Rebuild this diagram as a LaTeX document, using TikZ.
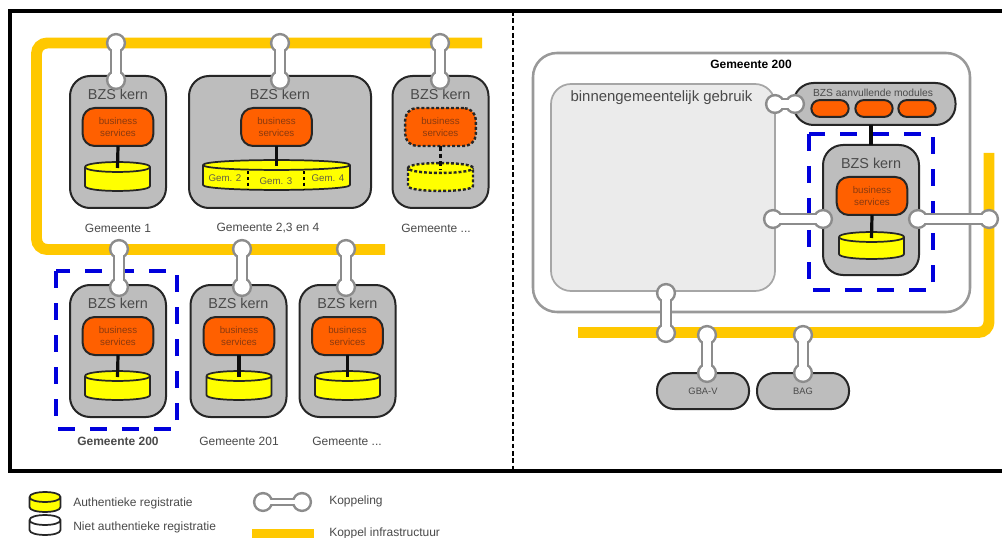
\documentclass[tikz,border=0pt]{standalone}
\usepackage{fontspec}
\setmainfont{Liberation Sans}
\definecolor{pipe}{HTML}{FFC800}
\definecolor{boxgrey}{HTML}{BDBDBD}
\definecolor{kopgrey}{HTML}{8C8C8C}
\definecolor{orangebs}{HTML}{FF6000}
\definecolor{txtgrey}{HTML}{4A4A4A}
\definecolor{bstxt}{HTML}{8A3A10}
\definecolor{cylyellow}{HTML}{FFFF00}
\definecolor{bluedash}{HTML}{0000DC}
\tikzset{
  kernbox/.style={draw=black!85,line width=1.5pt,fill=boxgrey,rounded corners=15pt,inner sep=0pt,outer sep=0pt},
  bsbox/.style={draw=black!85,line width=1.5pt,fill=orangebs,rounded corners=9pt,inner sep=0pt,outer sep=0pt,
     minimum width=53pt,minimum height=28.5pt,align=center,text=bstxt,font=\fontsize{7.3}{9}\selectfont},
  dotline/.style={line width=1.8pt,dash pattern=on 2.2pt off 1.5pt},
  bsdash/.style={bsbox,dotline},
  modpill/.style={draw=black!85,line width=1.5pt,fill=orangebs,rounded corners=6.3pt,inner sep=0pt,outer sep=0pt,
     minimum width=28pt,minimum height=12.6pt},
  dbcyl/.style={draw=black!85,line width=1.3pt,line join=round},
  dblink/.style={draw=black!95,line width=2.4pt},
  pipeline/.style={draw=pipe,line width=8.2pt,rounded corners=8pt},
  lab/.style={text=txtgrey,font=\fontsize{9}{11}\selectfont,inner sep=0pt},
  kerntxt/.style={text=txtgrey,font=\fontsize{10.8}{13}\selectfont,inner sep=0pt},
  gemtxt/.style={text=black!70!yellow,font=\fontsize{7.3}{9}\selectfont,inner sep=0pt},
  bluebox/.style={draw=bluedash,line width=2.5pt,dash pattern=on 13pt off 11pt},
}
% \kop[outer stem/inner stem]{a}{b}
\newcommand{\kop}[3][9pt/5.4pt]{%
  \foreach \kopO/\kopI in {#1}{%
    \fill[kopgrey] (#2) circle[radius=7.6pt] (#3) circle[radius=7.6pt];
    \draw[kopgrey,line width=\kopO] (#2) -- (#3);
    \fill[white] (#2) circle[radius=5.7pt] (#3) circle[radius=5.7pt];
    \draw[white,line width=\kopI] (#2) -- (#3);}}
% \cylin{name}{cx}{ytop}{ybot}{halfwidth}{style}{fill}
\newcommand{\cylin}[7]{%
  \pgfmathsetmacro{\cyL}{#2-#5}\pgfmathsetmacro{\cyR}{#2+#5}%
  \pgfmathsetmacro{\cyT}{#3-6.6}\pgfmathsetmacro{\cyU}{#3+6.6}\pgfmathsetmacro{\cyB}{#4+6.6}%
  \filldraw[#6,fill=#7] (\cyL,#3) -- (\cyL,#4) .. controls (\cyL,\cyB) and (\cyR,\cyB) .. (\cyR,#4) -- (\cyR,#3)
     .. controls (\cyR,\cyT) and (\cyL,\cyT) .. (\cyL,#3) .. controls (\cyL,\cyU) and (\cyR,\cyU) .. (\cyR,#3);
  \coordinate (#1) at (#2,#3+1);}
% \kernunit{name}{cx}{top}{bottom}
\newcommand{\kernunit}[4]{%
  \pgfmathsetmacro{\kuM}{(#3+#4)/2}\pgfmathsetmacro{\kuH}{(#4-#3)*0.75}%
  \pgfmathsetmacro{\kuY}{#3+18}%
  \node[kernbox,minimum width=72pt,minimum height=\kuH pt] (#1) at (#2,\kuM) {};
  \node[kerntxt] (#1t) at (#2,\kuY) {BZS kern};}
\newcommand{\bsnode}[4][bsbox]{\node[#1] (#2) at (#3,#4) {business\\services};}
\begin{document}
\begin{tikzpicture}[x=0.75pt,y=-0.75pt]
\useasboundingbox (0,0) rectangle (1002,538);
\fill[white] (0,0) rectangle (1002,538);

% frame (open to the right edge)
\coordinate (fa) at (1003,11); \coordinate (fb) at (10,11);
\coordinate (fc) at (10,471);  \coordinate (fd) at (1003,471);
\draw[black,line width=2.5pt] (fa) -- (fb) -- (fc) -- (fd);
\coordinate (da) at (513,11); \coordinate (db) at (513,471);
\draw[black,line width=1.6pt,dash pattern=on 3.5pt off 2pt] (da) -- (db);

% left infrastructure
\draw[pipeline] (482,43) -- (36.5,43) -- (36.5,249.5) -- (385,249.5);

% Row 1
\kernunit{k1}{118}{76}{208}
\bsnode{b1}{118}{127}
\cylin{c1}{117.5}{167}{186}{32.5}{dbcyl}{cylyellow}
\draw[dblink] (b1.south) -- (c1);
\node[lab] (g1) at (118,228) {Gemeente 1};

\node[kernbox,minimum width=136.5pt,minimum height=99pt] (k2) at (280,142) {};
\node[kerntxt] (k2t) at (280,94) {BZS kern};
\bsnode{b2}{276.5}{127}
\cylin{c2}{276.5}{165}{185}{73.5}{dbcyl}{cylyellow}
\draw[dblink] (b2.south) -- (c2);
\coordinate (s1a) at (248,171); \coordinate (s1b) at (248,189);
\coordinate (s2a) at (304,171); \coordinate (s2b) at (304,189);
\draw[black,line width=1.5pt,dash pattern=on 2.2pt off 2.2pt] (s1a) -- (s1b) (s2a) -- (s2b);
\node[gemtxt] (g21) at (225,178) {Gem. 2};
\node[gemtxt] (g22) at (276,181) {Gem. 3};
\node[gemtxt] (g23) at (328,178) {Gem. 4};
\node[lab] (g2) at (268,228) {Gemeente 2,3 en 4};

\kernunit{k3}{440.5}{76}{208}
\bsnode[bsdash]{b3}{440.5}{127}
\cylin{c3}{440.5}{168}{186}{32.5}{dbcyl,dotline}{cylyellow}
\draw[dblink,line width=2.6pt,dash pattern=on 3.5pt off 2.2pt] (b3.south) -- (c3);
\node[lab] (g3) at (436,228) {Gemeente ...};

% Row 2
\draw[bluebox] (56,271) rectangle (177,429);
\kernunit{k4}{118}{285}{417}
\bsnode{b4}{118}{336}
\cylin{c4}{117.5}{376}{395}{32.5}{dbcyl}{cylyellow}
\draw[dblink] (b4.south) -- (c4);
\node[lab,font=\fontsize{9}{11}\selectfont\bfseries] (g4) at (118,441) {Gemeente 200};

\kernunit{k5}{238.5}{285}{417}
\bsnode{b5}{239}{336}
\cylin{c5}{239}{376}{395}{32.5}{dbcyl}{cylyellow}
\draw[dblink] (b5.south) -- (c5);
\node[lab] (g5) at (239,441) {Gemeente 201};

\kernunit{k6}{347.5}{285}{417}
\bsnode{b6}{347.5}{336}
\cylin{c6}{347.5}{376}{395}{32.5}{dbcyl}{cylyellow}
\draw[dblink] (b6.south) -- (c6);
\node[lab] (g6) at (347,441) {Gemeente ...};

% left couplings
\coordinate (p1) at (116,43);  \coordinate (q1) at (116,80);
\coordinate (p2) at (280,43);  \coordinate (q2) at (280,80);
\coordinate (p3) at (440,43);  \coordinate (q3) at (440,80);
\coordinate (p4) at (119,249); \coordinate (q4) at (119,287);
\coordinate (p5) at (242,249); \coordinate (q5) at (242,287);
\coordinate (p6) at (346,249); \coordinate (q6) at (346,287);
\kop{p1}{q1}\kop{p2}{q2}\kop{p3}{q3}\kop{p4}{q4}\kop{p5}{q5}\kop{p6}{q6}

% right side
\draw[pipeline] (989,153) -- (989,332.5) -- (578,332.5);
\node[draw=black!40,line width=1.9pt,fill=white,rounded corners=18pt,minimum width=327.75pt,minimum height=194.25pt,inner sep=0pt,outer sep=0pt] (gem) at (751.5,182.5) {};
\node[lab,text=black,font=\fontsize{9}{11}\selectfont\bfseries] (gemt) at (751,64) {Gemeente 200};
\node[draw=black!35,line width=1.3pt,fill=black!8,rounded corners=15pt,minimum width=168pt,minimum height=155.25pt,inner sep=0pt,outer sep=0pt] (binnen) at (663,187.5) {};
\node[kerntxt,font=\fontsize{11.2}{13}\selectfont] (binnent) at (661.5,98) {binnengemeentelijk gebruik};

\node[draw=black!85,line width=1.5pt,fill=boxgrey,rounded corners=15pt,minimum width=121.5pt,minimum height=31.5pt,inner sep=0pt,outer sep=0pt] (mods) at (874.5,104) {};
\node[lab,font=\fontsize{7.7}{9}\selectfont] (modst) at (873,93) {BZS aanvullende modules};
\node[modpill] (m1) at (830,108.5) {};
\node[modpill] (m2) at (874,108.5) {};
\node[modpill] (m3) at (917,108.5) {};

\draw[bluebox] (809,134) rectangle (933,290);
\kernunit{k7}{871}{145}{275}
\draw[dblink] (mods.south -| k7.north) -- (k7.north);
\bsnode{b7}{872}{196}
\cylin{c7}{871.5}{237}{254}{32.5}{dbcyl}{cylyellow}
\draw[dblink] (b7.south) -- (c7);

\node[draw=black!85,line width=1.5pt,fill=boxgrey,rounded corners=13pt,minimum width=69pt,minimum height=27pt,inner sep=0pt,outer sep=0pt] (gba) at (703,391) {};
\node[lab,font=\fontsize{7}{9}\selectfont] (gbat) at (703,391) {GBA-V};
\node[draw=black!85,line width=1.5pt,fill=boxgrey,rounded corners=13pt,minimum width=69pt,minimum height=27pt,inner sep=0pt,outer sep=0pt] (bag) at (803,391) {};
\node[lab,font=\fontsize{7}{9}\selectfont] (bagt) at (803,391) {BAG};

\coordinate (r1a) at (775,104); \coordinate (r1b) at (795,104);
\coordinate (r2a) at (773,219); \coordinate (r2b) at (823,219);
\coordinate (r3a) at (918,219); \coordinate (r3b) at (989,219);
\coordinate (r4a) at (666,293); \coordinate (r4b) at (666,333);
\coordinate (r5a) at (707,335); \coordinate (r5b) at (707,373);
\coordinate (r6a) at (803,335); \coordinate (r6b) at (803,373);
\kop{r1a}{r1b}\kop{r2a}{r2b}\kop{r3a}{r3b}\kop{r4a}{r4b}\kop{r5a}{r5b}\kop{r6a}{r6b}

% legend
\cylin{lc1}{45}{497}{507}{15.5}{dbcyl}{cylyellow}
\cylin{lc2}{45}{520}{530}{15.5}{dbcyl}{white}
\node[lab,anchor=west] (l1) at (73,503) {Authentieke registratie};
\node[lab,anchor=west] (l2) at (73,527) {Niet authentieke registratie};
\coordinate (lk1) at (263,502); \coordinate (lk2) at (302,502);
\kop[5.6pt/2.4pt]{lk1}{lk2}
\node[lab,anchor=west] (l3) at (329,501) {Koppeling};
\node[fill=pipe,minimum width=47pt,minimum height=7pt,inner sep=0pt,outer sep=0pt] (l4b) at (283,533.5) {};
\node[lab,anchor=west] (l4) at (329,533) {Koppel infrastructuur};
\end{tikzpicture}
\end{document}
